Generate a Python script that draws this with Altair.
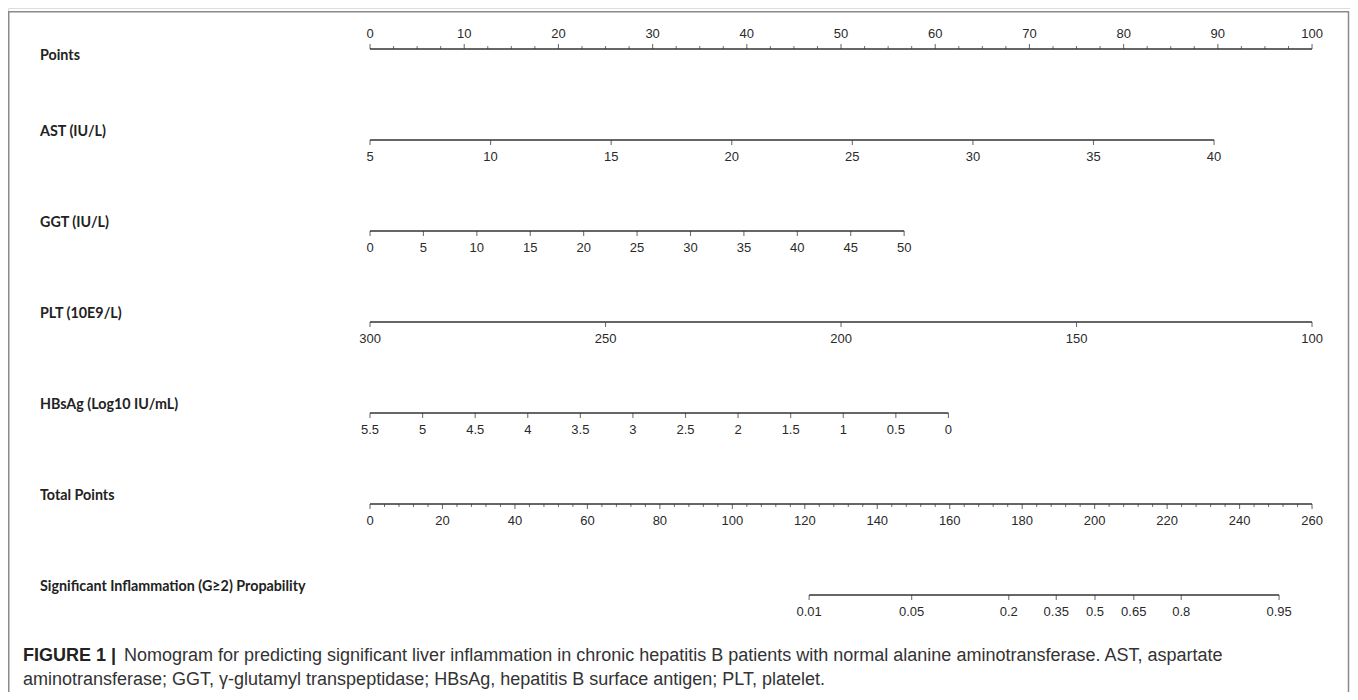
import altair as alt
import pandas as pd
import numpy as np

# ---------------- data ----------------
row_names = [
    "Points",
    "AST (IU/L)",
    "GGT (IU/L)",
    "PLT (10E9/L)",
    "HBsAg (Log10 IU/mL)",
    "Total Points",
    "Significant Inflammation (G\u22652) Propability",
]

points_labels = [0, 10, 20, 30, 40, 50, 60, 70, 80, 90, 100]
points_minor_step = 2.5

ast_labels = [5, 10, 15, 20, 25, 30, 35, 40]
ast_end_points = 89.6          # points reached by AST = 40

ggt_labels = [0, 5, 10, 15, 20, 25, 30, 35, 40, 45, 50]
ggt_end_points = 56.7          # points reached by GGT = 50

plt_labels = [300, 250, 200, 150, 100]
plt_end_points = 100.0         # points reached by PLT = 100

hbsag_labels = [5.5, 5, 4.5, 4, 3.5, 3, 2.5, 2, 1.5, 1, 0.5, 0]
hbsag_end_points = 61.4        # points reached by HBsAg = 0

total_labels = [0, 20, 40, 60, 80, 100, 120, 140, 160, 180, 200, 220, 240, 260]
total_minor_step = 4
total_max = 260

prob_labels = [0.01, 0.05, 0.2, 0.35, 0.5, 0.65, 0.8, 0.95]
prob_total_points = [121.2, 149.5, 176.3, 189.4, 200.1, 210.8, 223.9, 250.9]

caption_bold = "FIGURE 1 |"
caption_line1 = ("Nomogram for predicting significant liver inflammation in chronic hepatitis B "
                 "patients with normal alanine aminotransferase. AST, aspartate")
caption_line2 = ("aminotransferase; GGT, \u03b3-glutamyl transpeptidase; HBsAg, hepatitis B "
                 "surface antigen; PLT, platelet.")

# ---------------- build tables ----------------
def fmt(v):
    return ("%g" % v)

ticks = []
def add(row, pos, label, major=True):
    ticks.append({"row": row, "pos": pos, "label": label if major else "",
                  "major": major, "up": row == 0})

for v in points_labels:
    add(0, v, fmt(v))
for m in np.arange(0, 100 + 1e-9, points_minor_step):
    if abs(m % 10) > 1e-9:
        add(0, m, "", False)
for v in ast_labels:
    add(1, (v - ast_labels[0]) / (ast_labels[-1] - ast_labels[0]) * ast_end_points, fmt(v))
for v in ggt_labels:
    add(2, v / ggt_labels[-1] * ggt_end_points, fmt(v))
for v in plt_labels:
    add(3, (plt_labels[0] - v) / (plt_labels[0] - plt_labels[-1]) * plt_end_points, fmt(v))
for v in hbsag_labels:
    add(4, (hbsag_labels[0] - v) / hbsag_labels[0] * hbsag_end_points, fmt(v))
for v in total_labels:
    add(5, v / total_max * 100, fmt(v))
for m in np.arange(0, total_max + 1e-9, total_minor_step):
    if m % 20 != 0:
        add(5, m / total_max * 100, "", False)
for p, tp in zip(prob_labels, prob_total_points):
    add(6, tp / total_max * 100, fmt(p))

tdf = pd.DataFrame(ticks)
ldf = tdf.groupby("row").agg(x0=("pos", "min"), x1=("pos", "max")).reset_index()
rdf = pd.DataFrame({"row": list(range(len(row_names))), "name": row_names})

# ---------------- scales ----------------
W, H = 1342, 684
xs = alt.Scale(domain=[-38.43, 104.03], nice=False, zero=False)
ys = alt.Scale(domain=[-0.4505, 7.066], nice=False, zero=False, reverse=True)
X = lambda f: alt.X(f, type="quantitative", scale=xs, axis=None)
Y = alt.Y("row:Q", scale=ys, axis=None)

INK = "#333333"
TICKFONT = "Liberation Sans, Arial, sans-serif"
LABFONT = "Lato, Open Sans, sans-serif"
CAPFONT = "Liberation Sans, Arial, sans-serif"

lines = alt.Chart(ldf).mark_rule(color=INK, strokeWidth=1.4).encode(
    x=X("x0"), x2="x1", y=Y)

maj = tdf[tdf.major]
mnr = tdf[~tdf.major]

ticks_down = alt.Chart(maj[~maj.up]).mark_tick(
    orient="vertical", size=5, thickness=1.1, yOffset=2.5, color=INK).encode(x=X("pos"), y=Y)
ticks_up = alt.Chart(maj[maj.up]).mark_tick(
    orient="vertical", size=5, thickness=1.1, yOffset=-2.5, color=INK).encode(x=X("pos"), y=Y)
minor_up = alt.Chart(mnr[mnr.up]).mark_tick(
    orient="vertical", size=3, thickness=1, yOffset=-1.5, color=INK).encode(x=X("pos"), y=Y)
minor_down = alt.Chart(mnr[~mnr.up]).mark_tick(
    orient="vertical", size=3, thickness=1, yOffset=1.5, color=INK).encode(x=X("pos"), y=Y)

lab_down = alt.Chart(maj[~maj.up]).mark_text(
    font=TICKFONT, fontSize=13, color="#2a2a2a", dy=17, baseline="middle").encode(
    x=X("pos"), y=Y, text="label:N")
lab_up = alt.Chart(maj[maj.up]).mark_text(
    font=TICKFONT, fontSize=13, color="#2a2a2a", dy=-15, baseline="middle").encode(
    x=X("pos"), y=Y, text="label:N")

names_first = alt.Chart(rdf[rdf.row == 0]).mark_text(
    font=LABFONT, fontSize=14.3, fontWeight="bold", color="#222", align="left",
    baseline="middle", dy=7).encode(x=alt.value(32), y=Y, text="name:N")
names_rest = alt.Chart(rdf[rdf.row > 0]).mark_text(
    font=LABFONT, fontSize=14.3, fontWeight="bold", color="#222", align="left",
    baseline="middle", dy=-8).encode(x=alt.value(32), y=Y, text="name:N")

cap = pd.DataFrame({"t": [caption_bold, caption_line1, caption_line2],
                    "k": ["b", "r1", "r2"]})
cap_b = alt.Chart(cap[cap.k == "b"]).mark_text(
    font=CAPFONT, fontSize=18, fontWeight="bold",
    color="#222", align="left", baseline="middle").encode(
    x=alt.value(15), y=alt.value(648), text="t:N")
cap_1 = alt.Chart(cap[cap.k == "r1"]).mark_text(
    font=CAPFONT, fontSize=18,
    color="#333", align="left", baseline="middle").encode(
    x=alt.value(116), y=alt.value(648), text="t:N")
cap_2 = alt.Chart(cap[cap.k == "r2"]).mark_text(
    font=CAPFONT, fontSize=18,
    color="#333", align="left", baseline="middle").encode(
    x=alt.value(15), y=alt.value(672), text="t:N")

bdf = pd.DataFrame({"e": ["l", "t", "r"]})
border_l = alt.Chart(bdf[bdf.e == "l"]).mark_rule(color="#8a8a8a", strokeWidth=1.5).encode(
    x=alt.value(0.75), y=alt.value(3.7), y2=alt.value(H))
border_t = alt.Chart(bdf[bdf.e == "t"]).mark_rule(color="#8a8a8a", strokeWidth=1.5).encode(
    x=alt.value(0), x2=alt.value(W - 1), y=alt.value(3.7))
border_r = alt.Chart(bdf[bdf.e == "r"]).mark_rule(color="#8a8a8a", strokeWidth=1.5).encode(
    x=alt.value(W - 1.5), y=alt.value(3.7), y2=alt.value(H))

chart = alt.layer(
    border_l, border_t, border_r,
    lines, ticks_down, ticks_up, minor_up, minor_down,
    lab_down, lab_up, names_first, names_rest,
    cap_b, cap_1, cap_2,
).properties(width=W, height=H, padding=0, autosize=alt.AutoSizeParams(type="none")
).configure_view(stroke=None).configure(background="white")

chart.save("out.html", embed_options={"renderer": "svg", "actions": False})
